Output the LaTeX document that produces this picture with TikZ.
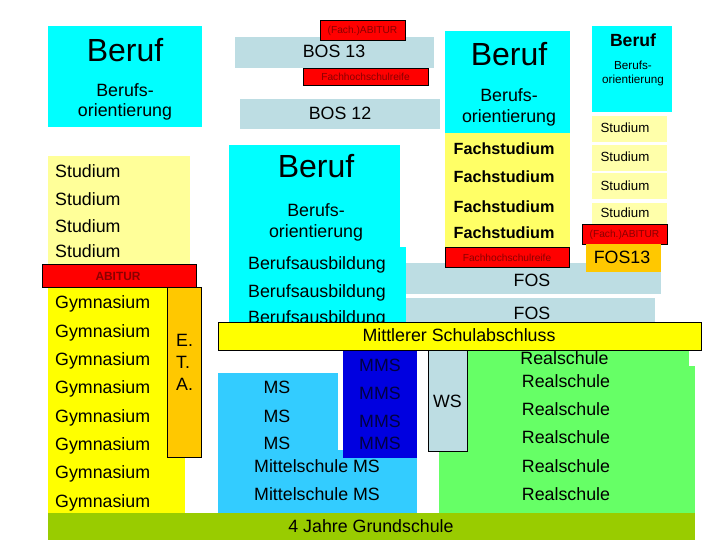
\documentclass[tikz,border=0pt]{standalone}
\usepackage{fontspec}
\setmainfont{Liberation Sans}
\definecolor{cyanb}{HTML}{00FFFF}
\definecolor{paleyel}{HTML}{FFFF99}
\definecolor{fachyel}{HTML}{FFFF66}
\definecolor{lightyel}{HTML}{FFFFAA}
\definecolor{gymyel}{HTML}{FFFF00}
\definecolor{redb}{HTML}{FF0000}
\definecolor{darkredt}{HTML}{8A0000}
\definecolor{orangeb}{HTML}{FFC800}
\definecolor{bosgray}{HTML}{BDDDE3}
\definecolor{msblue}{HTML}{33CCFF}
\definecolor{mmsblue}{HTML}{0000E0}
\definecolor{mmstext}{HTML}{000040}
\definecolor{realgreen}{HTML}{66FF66}
\definecolor{grundgreen}{HTML}{99CC00}
\begin{document}
\begin{tikzpicture}[x=1pt,y=-1pt,
  lbl/.style={inner sep=0pt, anchor=base, font=\fontsize{17.8}{20}\selectfont},
  lbll/.style={lbl, anchor=base west},
  big/.style={inner sep=0pt, anchor=base, font=\fontsize{32}{36}\selectfont},
  small/.style={inner sep=0pt, anchor=base, font=\fontsize{11.7}{14}\selectfont},
  tiny/.style={inner sep=0pt, anchor=center, text=darkredt, font=\fontsize{10.2}{12}\selectfont},
  redbox/.style={fill=redb, draw=black, line width=0.8pt},
  framed/.style={draw=black, line width=0.8pt}]
\useasboundingbox (0,0) rectangle (720,540);
\fill[white] (0,0) rectangle (720,540);

% ---------- left column ----------
\fill[cyanb] (48,26) rectangle (202,127);
\node[big] (lberuf) at (125,62) {Beruf};
\node[lbl] (lbo1) at (125,97) {Berufs-};
\node[lbl] (lbo2) at (125,117) {orientierung};

\fill[paleyel] (48,156) rectangle (190,265);
\node[lbll] (ls1) at (55,178) {Studium};
\node[lbll] (ls2) at (55,206) {Studium};
\node[lbll] (ls3) at (55,233) {Studium};
\node[lbll] (ls4) at (55,257) {Studium};

\fill[gymyel] (48,287) rectangle (185,515);
\foreach \y [count=\i] in {308,337,365,393,422,450,478,507}
  \node[lbll] (gym\i) at (55,\y) {Gymnasium};

\filldraw[fill=orangeb, framed] (167,287) rectangle (201,457);
\node[lbll] (etaE) at (176,346) {E.};
\node[lbll] (etaT) at (176,368) {T.};
\node[lbll] (etaA) at (176,390) {A.};

\filldraw[redbox] (42,264) rectangle (196,287);
\node[inner sep=0pt, anchor=base, text=darkredt, font=\fontsize{11.9}{14}\selectfont\bfseries] (abi) at (118,280) {ABITUR};

% ---------- BOS ----------
\fill[bosgray] (235,37) rectangle (434,68);
\node[lbl] (bos13) at (334,58) {BOS 13};
\filldraw[redbox] (320,20) rectangle (405,40);
\node[tiny] (fabi1) at (362.5,30.5) {(Fach.)ABITUR};
\filldraw[redbox] (303,68) rectangle (428,85);
\node[tiny] (fhr1) at (365.5,76.5) {Fachhochschulreife};
\fill[bosgray] (240,99) rectangle (440,129);
\node[lbl] (bos12) at (340,120) {BOS 12};

% ---------- middle column ----------
\fill[cyanb] (229,145) rectangle (400,247);
\node[big] (mberuf) at (316,178) {Beruf};
\node[lbl] (mbo1) at (316,217) {Berufs-};
\node[lbl] (mbo2) at (316,237) {orientierung};

\fill[bosgray] (400,263) rectangle (661,294);
\fill[bosgray] (400,298) rectangle (655,322);
\node[lbl] (fos1) at (532,286) {FOS};
\node[lbl] (fos2) at (532,319) {FOS};

\fill[cyanb] (229,247) rectangle (406,322);
\node[lbl] (ba1) at (317,269) {Berufsausbildung};
\node[lbl] (ba2) at (317,297) {Berufsausbildung};
\node[lbl] (ba3) at (317,323) {Berufsausbildung};

% ---------- right big column ----------
\fill[cyanb] (445,31) rectangle (570,133);
\node[big] (rberuf) at (509,66) {Beruf};
\node[lbl] (rbo1) at (509,102) {Berufs-};
\node[lbl] (rbo2) at (509,123) {orientierung};

\fill[fachyel] (445,133) rectangle (570,247);
\foreach \y [count=\i] in {155,183,212,239}
  \node[inner sep=0pt, anchor=base, font=\fontsize{16.2}{19}\selectfont\bfseries] (fs\i) at (504,\y) {Fachstudium};
\filldraw[redbox] (445,247) rectangle (569,267);
\node[tiny] (fhr2) at (507,257.5) {Fachhochschulreife};

% ---------- right small column ----------
\fill[cyanb] (592,26) rectangle (672,112);
\node[inner sep=0pt, anchor=base, font=\fontsize{17.6}{20}\selectfont\bfseries] (sberuf) at (633,47) {Beruf};
\node[small] (sbo1) at (633,70) {Berufs-};
\node[small] (sbo2) at (633,84) {orientierung};

\fill[lightyel] (592,116) rectangle (667,142);
\fill[lightyel] (592,145) rectangle (667,171);
\fill[lightyel] (592,173) rectangle (667,199);
\fill[lightyel] (592,203) rectangle (667,225);
\foreach \y [count=\i] in {133,162,191,218}
  \node[inner sep=0pt, anchor=base, font=\fontsize{13.3}{16}\selectfont] (rs\i) at (625,\y) {Studium};
\filldraw[redbox] (582,224) rectangle (667,244);
\node[tiny] (fabi2) at (624.5,234.5) {(Fach.)ABITUR};
\fill[orangeb] (586,244) rectangle (661,272);
\node[lbl] (fos13) at (622,263) {FOS13};

% ---------- lower part ----------
\fill[msblue] (218,373) rectangle (338,515);
\fill[msblue] (218,450) rectangle (417,515);
\fill[mmsblue] (343,350) rectangle (417,458);
\node[lbl] (ms1) at (277,393) {MS};
\node[lbl] (ms2) at (277,422) {MS};
\node[lbl] (ms3) at (277,449) {MS};
\foreach \y [count=\i] in {371,399,427,449}
  \node[lbl, text=mmstext] (mms\i) at (380,\y) {MMS};
\node[lbl] (mit1) at (317,472) {Mittelschule MS};
\node[lbl] (mit2) at (317,500) {Mittelschule MS};

\fill[realgreen] (439,350) rectangle (689,513);
\fill[realgreen] (439,366) rectangle (695,513);
\node[lbl] (rs0) at (564.5,364) {Realschule};
\foreach \y [count=\i] in {387,415,443,472,500}
  \node[lbl] (real\i) at (566,\y) {Realschule};

\filldraw[fill=bosgray, framed] (428,349) rectangle (467,451);
\node[lbl] (ws) at (447.5,407) {WS};

\filldraw[fill=gymyel, framed] (218,322) rectangle (701,350);
\node[lbl] (msa) at (459,341) {Mittlerer Schulabschluss};

\fill[grundgreen] (48,513) rectangle (695,540);
\node[lbl] (grund) at (371,532) {4 Jahre Grundschule};
\end{tikzpicture}
\end{document}
